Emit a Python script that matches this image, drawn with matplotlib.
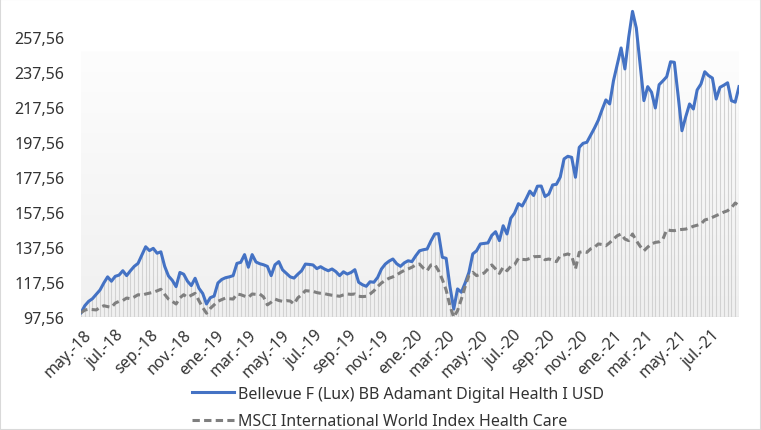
import numpy as np
import pandas as pd
import matplotlib
matplotlib.use('Agg')
import matplotlib.pyplot as plt
import matplotlib.dates as mdates
from matplotlib.ticker import FixedLocator, FuncFormatter
from matplotlib.patches import Rectangle

plt.rcParams['font.family'] = ['Noto Sans', 'DejaVu Sans']

'''Data (weekly, read off the chart)'''
start_date = '2018-04-27'
fund = [100.0, 104.0, 106.5, 108.0, 110.5, 113.0, 117.0, 120.5, 118.0, 120.8,
        121.5, 124.0, 121.2, 124.0, 126.5, 128.2, 133.0, 137.7, 135.5, 136.8,
        134.0, 134.8, 126.5, 121.0, 118.5, 114.9, 123.0, 122.0, 118.0, 115.5,
        119.7, 114.0, 111.0, 105.0, 108.6, 109.5, 117.0, 119.0, 120.0, 120.5,
        121.2, 128.2, 128.8, 133.2, 126.0, 133.2, 129.0, 128.0, 127.4, 126.5,
        121.2, 127.4, 129.2, 124.5, 122.5, 120.5, 119.8, 122.0, 124.0, 127.8,
        127.6, 127.3, 125.2, 126.3, 125.0, 124.0, 125.0, 123.5, 121.2, 123.4,
        122.1, 123.0, 124.6, 117.4, 116.0, 115.1, 117.7, 117.4, 120.2, 125.0,
        127.8, 129.5, 130.7, 128.0, 126.5, 128.5, 129.7, 129.2, 132.5, 135.4,
        136.0, 136.4, 141.0, 145.0, 145.2, 131.7, 131.1, 115.0, 102.1, 113.6,
        111.7, 117.0, 123.1, 133.6, 135.4, 139.3, 139.6, 139.9, 144.2, 146.3,
        141.2, 149.7, 145.0, 154.0, 157.0, 162.3, 161.0, 165.0, 169.5, 167.0,
        172.3, 172.4, 166.4, 167.8, 173.0, 173.4, 177.5, 187.9, 189.4, 188.8,
        177.4, 194.5, 196.8, 197.4, 201.5, 205.5, 210.0, 216.0, 221.6, 219.3,
        232.6, 242.0, 251.3, 239.3, 257.4, 272.2, 262.7, 242.0, 221.2, 229.2,
        226.0, 217.0, 230.3, 232.5, 234.9, 243.4, 243.1, 224.0, 204.0, 212.0,
        219.3, 216.4, 227.3, 230.7, 237.7, 235.5, 234.1, 222.1, 228.8, 230.0,
        231.4, 221.2, 220.3, 229.2]
index = [100.0, 101.5, 102.0, 101.8, 101.6, 103.0, 104.0, 103.5, 103.1, 105.5,
         106.5, 107.0, 108.4, 108.0, 109.0, 110.3, 110.0, 110.7, 111.2, 111.7,
         112.5, 113.4, 110.5, 107.8, 106.5, 105.0, 108.5, 110.3, 108.8, 110.0,
         111.1, 106.9, 103.0, 99.7, 102.5, 104.5, 106.5, 107.5, 108.4, 108.0,
         107.8, 110.7, 110.3, 109.5, 108.8, 110.7, 110.5, 110.7, 109.0, 104.5,
         106.0, 107.8, 107.0, 106.5, 106.9, 106.7, 105.0, 108.5, 110.3, 112.6,
         112.4, 112.2, 111.5, 111.1, 110.9, 110.4, 110.0, 109.7, 109.4, 110.2,
         110.7, 110.5, 110.7, 109.4, 109.2, 109.4, 110.7, 112.5, 115.0, 117.0,
         118.5, 119.7, 120.5, 121.6, 123.0, 124.2, 125.0, 126.0, 127.3, 127.8,
         125.5, 124.0, 127.3, 127.6, 124.0, 119.0, 113.0, 104.0, 97.4, 101.2,
         107.8, 115.0, 121.5, 123.1, 121.2, 122.0, 122.7, 125.0, 127.3, 125.0,
         122.5, 126.0, 124.0, 126.5, 127.5, 131.1, 130.5, 130.3, 131.0, 132.0,
         132.1, 132.2, 130.3, 130.7, 130.0, 129.2, 132.6, 133.0, 133.6, 132.6,
         125.0, 134.5, 135.0, 134.5, 136.5, 137.4, 139.3, 139.0, 138.3, 140.0,
         142.1, 144.0, 145.0, 142.1, 141.2, 145.0, 141.2, 138.0, 135.4, 137.5,
         139.3, 140.2, 140.5, 142.1, 147.4, 147.0, 146.9, 147.4, 147.6, 147.8,
         148.5, 149.4, 150.0, 150.7, 153.0, 153.6, 154.5, 155.5, 156.4, 157.5,
         158.3, 160.0, 162.7, 161.2]
fund_label = 'Bellevue F (Lux) BB Adamant Digital Health I USD'
index_label = 'MSCI International World Index Health Care'
ytick_values = [97.56, 117.56, 137.56, 157.56, 177.56, 197.56, 217.56, 237.56, 257.56]
month_names = {1: 'ene.', 3: 'mar.', 5: 'may.', 7: 'jul.', 9: 'sep.', 11: 'nov.'}

dates = pd.date_range(start_date, periods=len(fund), freq='7D')
xnum = mdates.date2num(dates)
y_min, y_max = 97.56, 277.56

BLUE = '#4472C4'
GREY = '#7F7F7F'
TXT = '#333333'

fig = plt.figure(figsize=(7.61, 4.31), dpi=100)
ax = fig.add_axes([81/761, 113/431, 658/761, 315/431])

# background gradient (white -> light grey)
top_c = np.array([253, 253, 253]) / 255
bot_c = np.array([240, 240, 240]) / 255
t = np.linspace(0, 1, 256).reshape(-1, 1, 1)
grad = top_c * (1 - t) + bot_c * t
ax.imshow(grad, extent=[xnum[0], xnum[-1], y_min, 249.0], aspect='auto',
          origin='upper', zorder=0, interpolation='bilinear')

# drop lines under the fund
ax.vlines(xnum, y_min, fund, colors='#d2d2d2', linewidth=0.8, zorder=1)
ax.axhline(y_min, color='#d9d9d9', linewidth=1, zorder=1)

l1, = ax.plot(xnum, fund, color=BLUE, linewidth=2.2, solid_joinstyle='round', zorder=3)
l2, = ax.plot(xnum, index, color=GREY, linewidth=2.2, dashes=(2.4, 1.4), zorder=4)

ax.set_xlim(xnum[0], xnum[-1])
ax.set_ylim(y_min, y_max)
for s in ax.spines.values():
    s.set_visible(False)

ax.yaxis.set_major_locator(FixedLocator(ytick_values))
ax.yaxis.set_major_formatter(FuncFormatter(lambda v, p: f'{v:.2f}'.replace('.', ',')))
ax.xaxis.set_major_locator(mdates.MonthLocator(bymonth=[1, 3, 5, 7, 9, 11]))
def fmt_date(x, pos):
    d = mdates.num2date(x)
    return month_names[d.month] + '-' + d.strftime('%y')
ax.xaxis.set_major_formatter(FuncFormatter(fmt_date))
ax.tick_params(axis='y', length=0, pad=12, labelsize=11.5, labelcolor=TXT)
ax.tick_params(axis='x', length=0, pad=7, labelsize=11.5, labelcolor=TXT)
for lab in ax.get_xticklabels():
    lab.set_rotation(45)
    lab.set_ha('right')
    lab.set_va('top')
    lab.set_rotation_mode('anchor')

fig.legend([l1, l2], [fund_label, index_label], loc='upper left',
           bbox_to_anchor=(192/761, 44/431), frameon=False, fontsize=11.5,
           handlelength=2.6, handletextpad=0.3, borderpad=0, borderaxespad=0,
           labelspacing=0.7, labelcolor=TXT)

fig.patches.append(Rectangle((0, 0), 1, 1, transform=fig.transFigure, fill=False,
                             edgecolor='#d9d9d9', linewidth=1.5))

fig.savefig('out.png', dpi=100)
